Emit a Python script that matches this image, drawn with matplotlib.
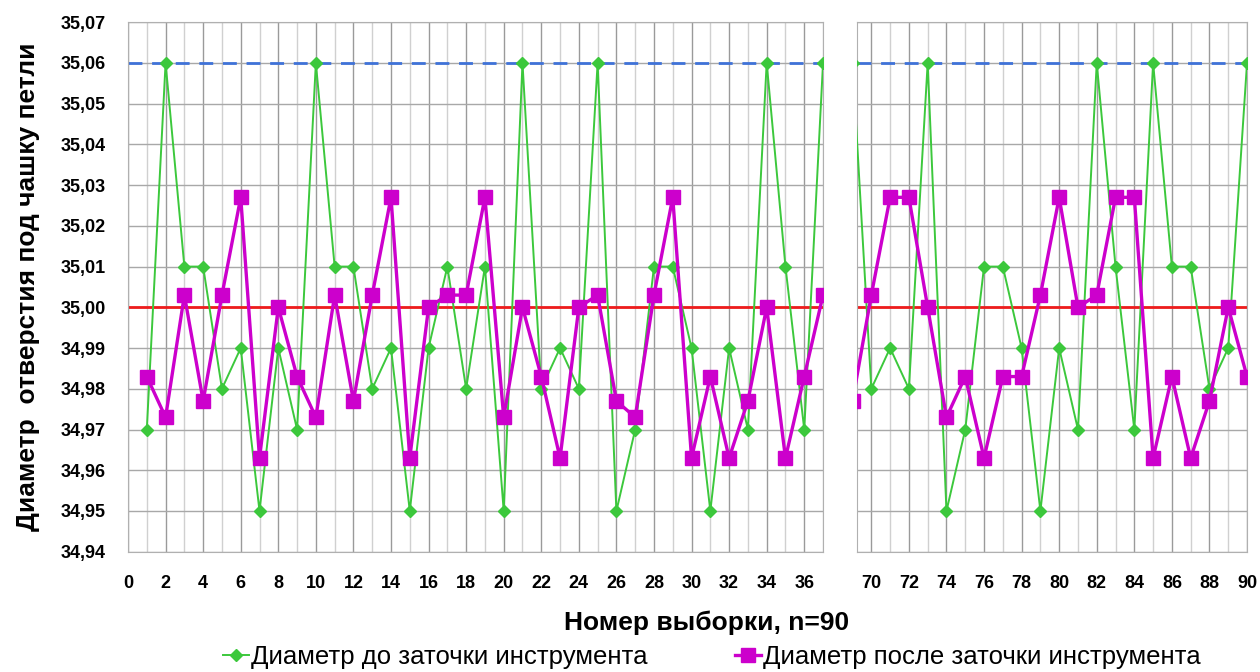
import numpy as np
import matplotlib.pyplot as plt
from matplotlib.ticker import MultipleLocator, FixedLocator

plt.rcParams['font.family'] = ['Liberation Sans', 'DejaVu Sans']

# Номера выборок (видимые участки)
n_left = list(range(1, 38))
n_right = list(range(69, 91))

# Диаметр до заточки инструмента
d_before_left = [34.97, 35.06, 35.01, 35.01, 34.98, 34.99, 34.95, 34.99, 34.97, 35.06,
                 35.01, 35.01, 34.98, 34.99, 34.95, 34.99, 35.01, 34.98, 35.01, 34.95,
                 35.06, 34.98, 34.99, 34.98, 35.06, 34.95, 34.97, 35.01, 35.01, 34.99,
                 34.95, 34.99, 34.97, 35.06, 35.01, 34.97, 35.06]
d_before_right = [35.06, 34.98, 34.99, 34.98, 35.06, 34.95, 34.97, 35.01, 35.01, 34.99,
                  34.95, 34.99, 34.97, 35.06, 35.01, 34.97, 35.06, 35.01, 35.01, 34.98,
                  34.99, 35.06]

# Диаметр после заточки инструмента
d_after_left = [34.983, 34.973, 35.003, 34.977, 35.003, 35.027, 34.963, 35.000, 34.983, 34.973,
                35.003, 34.977, 35.003, 35.027, 34.963, 35.000, 35.003, 35.003, 35.027, 34.973,
                35.000, 34.983, 34.963, 35.000, 35.003, 34.977, 34.973, 35.003, 35.027, 34.963,
                34.983, 34.963, 34.977, 35.000, 34.963, 34.983, 35.003]
d_after_right = [34.977, 35.003, 35.027, 35.027, 35.000, 34.973, 34.983, 34.963, 34.983, 34.983,
                 35.003, 35.027, 35.000, 35.003, 35.027, 35.027, 34.963, 34.983, 34.963, 34.977,
                 35.000, 34.983]

nominal = 35.00
upper = 35.06

green = '#3cc83c'
magenta = '#cc00cc'

fig = plt.figure(figsize=(12.6, 6.72), dpi=100)
ax1 = fig.add_axes([0.1016, 0.179, 0.5516, 0.788])
ax2 = fig.add_axes([0.6802, 0.179, 0.3095, 0.788])

panels = [(ax1, n_left, d_before_left, d_after_left, (0, 37), range(0, 37, 2)),
          (ax2, n_right, d_before_right, d_after_right, (69.24, 90), range(70, 91, 2))]

for ax, n, before, after, xl, ticks in panels:
    ax.axhline(upper, color='#3f72d8', lw=2, ls=(0, (5, 3.5)), zorder=2)
    ax.axhline(nominal, color='#ee1c1c', lw=2, zorder=2)
    ax.plot(n, before, color=green, lw=1.4, marker='D', ms=6.5, mec=green, zorder=3)
    ax.plot(n, after, color=magenta, lw=2.4, marker='s', ms=9.5, mec=magenta, zorder=4)
    ax.set_xlim(*xl)
    ax.set_ylim(34.94, 35.07)
    ax.xaxis.set_major_locator(FixedLocator(list(ticks)))
    ax.xaxis.set_minor_locator(MultipleLocator(1))
    ax.yaxis.set_major_locator(MultipleLocator(0.01))
    ax.grid(which='major', axis='x', color='#9a9a9a', lw=1.0, zorder=0)
    ax.grid(which='minor', axis='x', color='#d0d0d0', lw=1.0, zorder=0)
    ax.grid(which='major', axis='y', color='#a8a8a8', lw=1.0, zorder=0)
    ax.tick_params(length=0, which='both', labelsize=13)
    ax.tick_params(axis='x', pad=17)
    for lab in ax.get_xticklabels():
        lab.set_fontweight('bold')
    for s in ax.spines.values():
        s.set_color('#b0b0b0')

ax1.set_yticks(np.arange(34.94, 35.075, 0.01))
ax1.set_yticklabels([('%.2f' % v).replace('.', ',') for v in np.arange(34.94, 35.075, 0.01)],
                    fontweight='bold')
ax1.tick_params(axis='y', pad=16)
ax2.tick_params(axis='y', labelleft=False)

fig.text(0.013, 0.573, 'Диаметр  отверстия под чашку петли', rotation=90, ha='left', va='center',
         fontsize=19, fontweight='bold')
fig.text(0.561, 0.073, 'Номер выборки, n=90', ha='center', va='center',
         fontsize=19, fontweight='bold')

h1, = ax1.plot([], [], color=green, lw=1.4, marker='D', ms=6.5)
h2, = ax1.plot([], [], color=magenta, lw=2.4, marker='s', ms=9.5)
fig.legend([h1, h2], ['Диаметр до заточки инструмента', 'Диаметр после заточки инструмента'],
           loc='center', bbox_to_anchor=(0.565, 0.022), ncol=2, frameon=False, fontsize=18.5,
           handlelength=1.0, handletextpad=0.1, columnspacing=3.4)

fig.savefig('out.png', dpi=100)
